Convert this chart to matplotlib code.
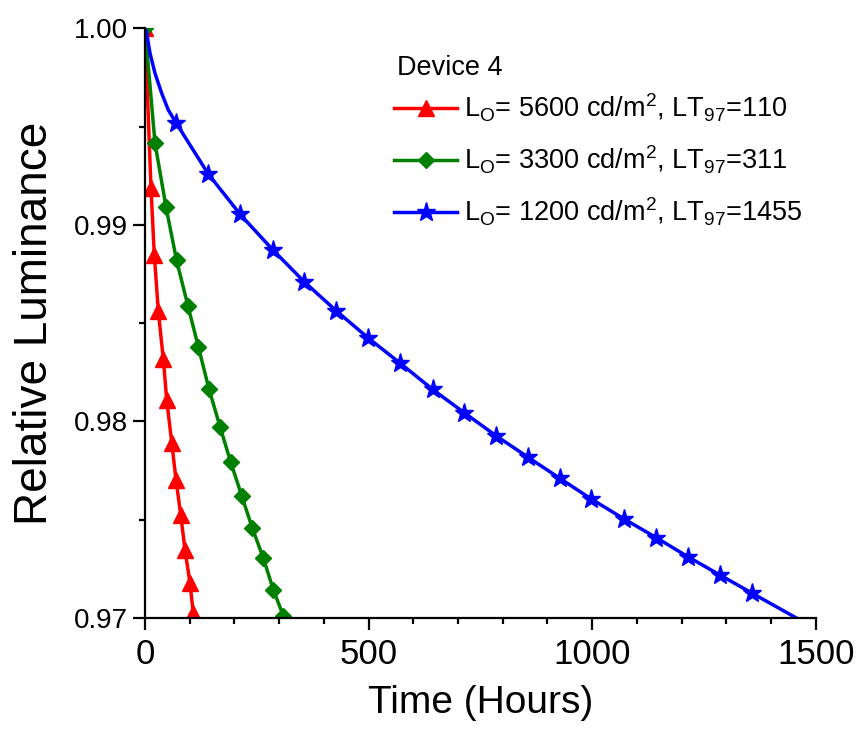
import matplotlib
matplotlib.use("Agg")
import matplotlib.pyplot as plt
from matplotlib.ticker import MultipleLocator, FormatStrFormatter

plt.rcParams["font.family"] = ["Liberation Sans", "DejaVu Sans"]
plt.rcParams["mathtext.fontset"] = "custom"
plt.rcParams["mathtext.rm"] = "Liberation Sans"

# values
red_t = [0, 13.4, 20.8, 29.8, 41.0, 48.6, 59.8, 69.4, 79.9, 89.5, 100.7, 108.0]
red_lum = [1.0, 0.99186, 0.98847, 0.98560, 0.98316, 0.98109, 0.97892,
           0.97702, 0.97524, 0.97346, 0.97176, 0.97024]

green_t = [0, 22.4, 47.0, 70.5, 96.2, 119.3, 143.3, 167.9, 191.8, 216.4,
           240.2, 264.8, 287.2, 309.6]
green_lum = [1.0, 0.99415, 0.99091, 0.98821, 0.98586, 0.98380, 0.98163,
             0.97973, 0.97792, 0.97621, 0.97456, 0.97304, 0.97142, 0.97010]

blue_t = [0, 3.8, 11.2, 22.4, 37.4, 52.2,
          70.3, 141.5, 212.7, 285.4, 355.9, 427.6, 498.5, 570.9, 643.2, 714.2,
          785.8, 856.7, 927.5, 998.4, 1070.7, 1143.3, 1214.0, 1285.7, 1358.2,
          1457.0]
blue_lum = [1.0, 0.99975, 0.99873, 0.99771, 0.99669, 0.99584,
            0.99516, 0.99259, 0.99054, 0.98874, 0.98711, 0.98563, 0.98426,
            0.98296, 0.98163, 0.98044, 0.97926, 0.97818, 0.97711, 0.97605,
            0.97505, 0.97409, 0.97312, 0.97219, 0.97126, 0.97000]
blue_marks = list(range(6, 25))

labels = [
    r"L$_\mathregular{O}$= 5600 cd/m$^\mathregular{2}$, LT$_\mathregular{97}$=110",
    r"L$_\mathregular{O}$= 3300 cd/m$^\mathregular{2}$, LT$_\mathregular{97}$=311",
    r"L$_\mathregular{O}$= 1200 cd/m$^\mathregular{2}$, LT$_\mathregular{97}$=1455",
]

fig = plt.figure(figsize=(8.56, 7.30), dpi=100)
ax = fig.add_axes([0.1694, 0.1534, 0.7835, 0.8078])

ax.plot(red_t, red_lum, color="#ff0000", lw=2.5, marker="^", ms=11,
        label=labels[0])
ax.plot(green_t, green_lum, color="#008000", lw=2.5, marker="D", ms=8.5,
        label=labels[1])
ax.plot(blue_t, blue_lum, color="#0000ff", lw=2.5, marker="*", ms=14,
        markevery=blue_marks, label=labels[2])

ax.set_xlim(0, 1500)
ax.set_ylim(0.97, 1.00)
ax.xaxis.set_major_locator(MultipleLocator(500))
ax.xaxis.set_minor_locator(MultipleLocator(100))
ax.yaxis.set_major_locator(MultipleLocator(0.01))
ax.yaxis.set_minor_locator(MultipleLocator(0.005))
ax.yaxis.set_major_formatter(FormatStrFormatter("%.2f"))

for side in ("top", "right"):
    ax.spines[side].set_visible(False)
for side in ("left", "bottom"):
    ax.spines[side].set_linewidth(1.6)

ax.tick_params(which="major", direction="out", length=8.5, width=1.6)
ax.tick_params(which="minor", direction="out", length=4.5, width=1.6)
ax.tick_params(axis="x", which="major", labelsize=25, pad=6)
ax.tick_params(axis="y", which="major", labelsize=20, pad=4)

ax.set_xlabel("Time (Hours)", fontsize=28, labelpad=10)
ax.set_ylabel("Relative Luminance", fontsize=33, labelpad=12)

# legend title drawn on its own so the gap to the first row matches
fig.text(0.4638, 0.8973, "Device 4", fontsize=19.5, ha="left", va="baseline")
ax.legend(loc="upper left", bbox_to_anchor=(0.372, 0.892), frameon=False,
          fontsize=19.5, handlelength=2.3, handletextpad=0.25,
          labelspacing=0.72, borderpad=0, borderaxespad=0)

fig.savefig("out.png", dpi=100)
